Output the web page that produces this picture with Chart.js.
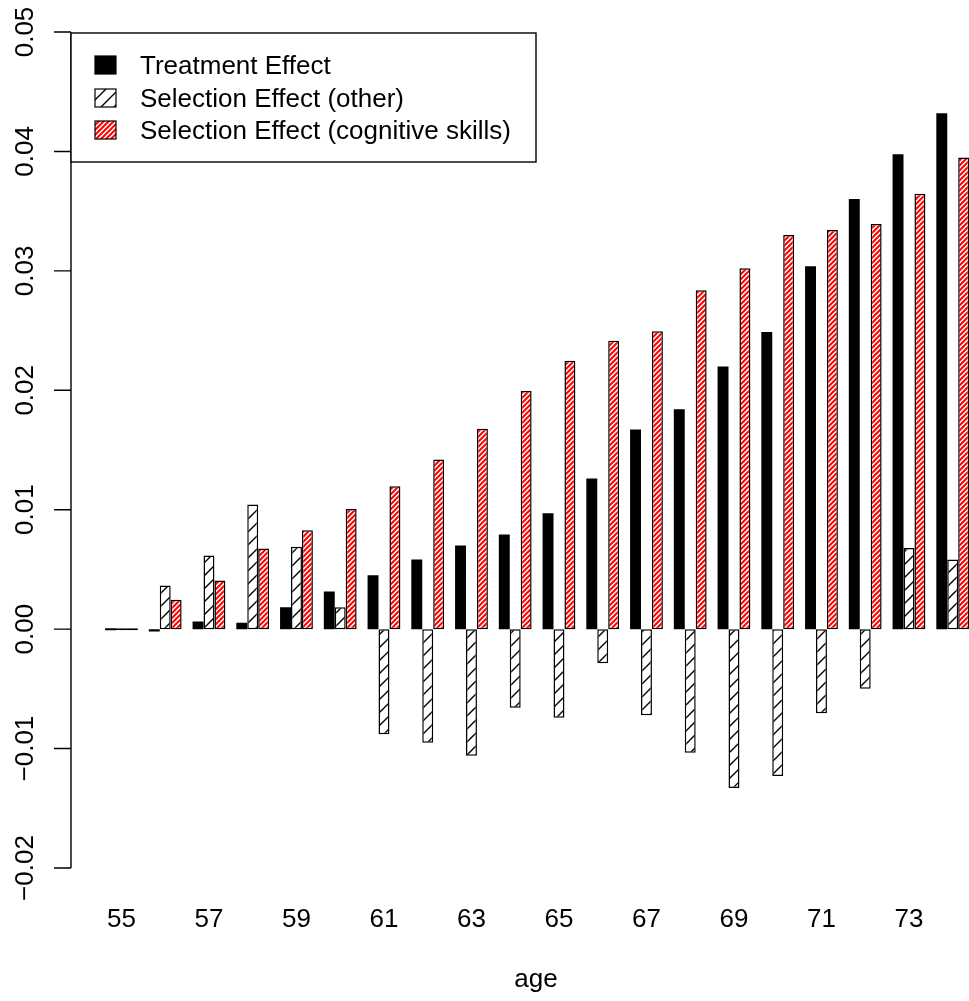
<!DOCTYPE html>
<html>
<head>
<meta charset="utf-8">
<script src="https://cdn.jsdelivr.net/npm/chart.js@4.4.0/dist/chart.umd.min.js"></script>
<style>
  html, body { margin: 0; padding: 0; background: #fff; overflow: hidden; }
  #wrap { width: 1000px; height: 1001px; }
</style>
</head>
<body>
<div id="wrap"><canvas id="chart"></canvas></div>
<script>
// Data
const ages = ['55', '56', '57', '58', '59', '60', '61', '62', '63', '64',
              '65', '66', '67', '68', '69', '70', '71', '72', '73', '74'];
const treatment = [0, -0.0002, 0.00064, 0.00053, 0.00184, 0.00315, 0.00452, 0.00583, 0.00701, 0.00793,
                   0.00971, 0.01262, 0.01672, 0.01842, 0.0220, 0.02488, 0.03039, 0.03601, 0.03976, 0.0432];
const selectionOther = [0, 0.00366, 0.00617, 0.01044, 0.00689, 0.00184, -0.0088, -0.00952, -0.01061, -0.00659,
                        -0.00742, -0.00285, -0.0072, -0.01035, -0.0133, -0.0123, -0.00704, -0.00499, 0.0068, 0.00584];
const selectionCognitive = [0, 0.00246, 0.00407, 0.00675, 0.00829, 0.01005, 0.01197, 0.01421, 0.01677, 0.01995,
                            0.02247, 0.02414, 0.02495, 0.02838, 0.03022, 0.033, 0.03343, 0.03393, 0.03645, 0.03949];
const yTicks = [-0.02, -0.01, 0.00, 0.01, 0.02, 0.03, 0.04, 0.05];
const seriesNames = ['Treatment Effect', 'Selection Effect (other)', 'Selection Effect (cognitive skills)'];

const FONT = '26px "Liberation Sans", Arial, sans-serif';

// diagonal hatch pattern like R's density/angle fill
function hatch(color, size, lw) {
  const c = document.createElement('canvas');
  c.width = size; c.height = size;
  const g = c.getContext('2d');
  g.fillStyle = '#fff';
  g.fillRect(0, 0, size, size);
  g.strokeStyle = color;
  g.lineWidth = lw;
  g.beginPath();
  g.moveTo(0, size); g.lineTo(size, 0);
  g.moveTo(-2, 2); g.lineTo(2, -2);
  g.moveTo(size - 2, size + 2); g.lineTo(size + 2, size - 2);
  g.stroke();
  return g.createPattern(c, 'repeat');
}

const ctx = document.getElementById('chart').getContext('2d');
const blackHatch = hatch('#000', 13, 1.4);
const redHatch = hatch('#ff0000', 5, 2);
const fills = ['#000', blackHatch, redHatch];

// draws the R-style axes, labels and legend
const rStyle = {
  id: 'rStyle',
  afterDraw(chart) {
    const c = chart.ctx;
    const y = chart.scales.y;
    const x = chart.scales.x;
    const axisX = 71;
    c.save();
    c.strokeStyle = '#000';
    c.fillStyle = '#000';
    c.lineWidth = 1.4;

    // y axis line and ticks
    c.beginPath();
    c.moveTo(axisX, y.getPixelForValue(yTicks[0]));
    c.lineTo(axisX, y.getPixelForValue(yTicks[yTicks.length - 1]));
    yTicks.forEach(v => {
      const py = y.getPixelForValue(v);
      c.moveTo(axisX - 17, py);
      c.lineTo(axisX, py);
    });
    c.stroke();

    // rotated y labels
    c.font = FONT;
    c.textAlign = 'center';
    c.textBaseline = 'alphabetic';
    yTicks.forEach(v => {
      const py = y.getPixelForValue(v);
      c.save();
      c.translate(33, py);
      c.rotate(-Math.PI / 2);
      c.fillText(v.toFixed(2).replace('-', '\u2212'), 0, 0);
      c.restore();
    });

    // x labels, every other one like R drops them
    ages.forEach((a, i) => {
      if (i % 2 === 0) {
        c.fillText(a, x.getPixelForValue(i), 927);
      }
    });
    c.fillText('age', 536, 987);

    // legend box
    c.fillStyle = '#fff';
    c.fillRect(71, 33, 465, 129);
    c.strokeRect(71, 33, 465, 129);
    const rows = [56, 89, 121];
    seriesNames.forEach((name, i) => {
      c.fillStyle = fills[i];
      c.fillRect(95, rows[i], 21, 18);
      c.lineWidth = 1.2;
      c.strokeRect(95, rows[i], 21, 18);
      c.fillStyle = '#000';
      c.textAlign = 'left';
      c.fillText(name, 140, rows[i] + 18);
    });
    c.restore();
  }
};

new Chart(ctx, {
  type: 'bar',
  data: {
    labels: ages,
    datasets: [{
      label: seriesNames[0],
      data: treatment,
      backgroundColor: fills[0],
      borderWidth: 0 // solid black, border would only leave seams
    }, {
      label: seriesNames[1],
      data: selectionOther,
      backgroundColor: fills[1]
    }, {
      label: seriesNames[2],
      data: selectionCognitive,
      backgroundColor: fills[2]
    }]
  },
  options: {
    responsive: true,
    maintainAspectRatio: false,
    animation: false,
    layout: { padding: { left: 99.6, right: 25.4, top: 32, bottom: 133 } },
    datasets: {
      bar: {
        categoryPercentage: 0.75,
        barPercentage: 1.0,
        borderColor: '#000',
        borderWidth: 1.5,
        borderSkipped: false,
        minBarLength: 2
      }
    },
    scales: {
      x: { display: false },
      y: { display: false, min: -0.02, max: 0.05 }
    },
    plugins: {
      legend: { display: false },
      tooltip: { enabled: false }
    }
  },
  plugins: [rStyle]
});
</script>
</body>
</html>
